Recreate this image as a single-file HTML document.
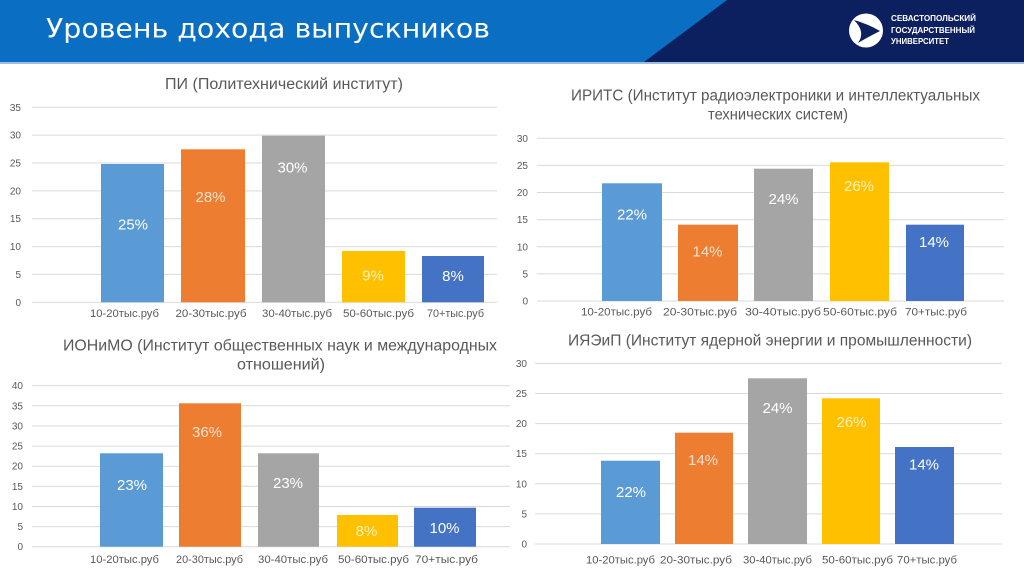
<!DOCTYPE html>
<html><head><meta charset="utf-8"><style>
html,body{margin:0;padding:0;background:#fff;}
svg{display:block;}
.t{font-family:"Liberation Sans","Noto Sans CJK SC",sans-serif;}
</style></head><body>
<svg width="1024" height="576" viewBox="0 0 1024 576" xmlns="http://www.w3.org/2000/svg" class="t">
<rect x="0" y="0" width="1024" height="576" fill="#ffffff"/>
<!-- header -->
<rect x="0" y="0" width="1024" height="62" fill="#0a6fc2"/>
<polygon points="727,0 1024,0 1024,62 644,62" fill="#0c1f5e"/>
<rect x="0" y="62" width="1024" height="2" fill="#9fbde0"/>
<text x="46" y="37.5" font-size="27" fill="#ffffff" font-family="DejaVu Sans, sans-serif" textLength="444" lengthAdjust="spacingAndGlyphs">Уровень дохода выпускников</text>
<circle cx="866" cy="30.5" r="17" fill="#ffffff"/>
<path d="M854,20 Q868,24 880,31 Q868,37 858,43 Q866,32 854,20 Z" fill="#0c1f5e"/>
<g font-size="8.5" font-weight="bold" fill="#ffffff">
<text x="891" y="21" textLength="85" lengthAdjust="spacingAndGlyphs">СЕВАСТОПОЛЬСКИЙ</text>
<text x="891" y="33" textLength="84" lengthAdjust="spacingAndGlyphs">ГОСУДАРСТВЕННЫЙ</text>
<text x="891" y="44" textLength="58" lengthAdjust="spacingAndGlyphs">УНИВЕРСИТЕТ</text>
</g>

<!-- ===== Chart 1 ===== -->
<g stroke="#d9d9d9" stroke-width="1">
<line x1="32" x2="497" y1="302.3" y2="302.3"/>
<line x1="32" x2="497" y1="274.4" y2="274.4"/>
<line x1="32" x2="497" y1="246.6" y2="246.6"/>
<line x1="32" x2="497" y1="218.7" y2="218.7"/>
<line x1="32" x2="497" y1="190.9" y2="190.9"/>
<line x1="32" x2="497" y1="163.0" y2="163.0"/>
<line x1="32" x2="497" y1="135.1" y2="135.1"/>
<line x1="32" x2="497" y1="107.3" y2="107.3"/>
</g>
<g font-size="10" fill="#595959" text-anchor="end">
<text x="21" y="305.8">0</text>
<text x="21" y="277.9">5</text>
<text x="21" y="250.1">10</text>
<text x="21" y="222.2">15</text>
<text x="21" y="194.4">20</text>
<text x="21" y="166.5">25</text>
<text x="21" y="138.6">30</text>
<text x="21" y="110.8">35</text>
</g>
<rect x="101" y="164" width="63" height="138.3" fill="#5b9bd5"/>
<rect x="181" y="149.3" width="64" height="153" fill="#ed7d31"/>
<rect x="262" y="135.7" width="63" height="166.6" fill="#a5a5a5"/>
<rect x="342" y="251" width="63" height="51.3" fill="#ffc000"/>
<rect x="422" y="256" width="62" height="46.3" fill="#4472c4"/>
<g font-size="15" text-anchor="middle">
<text x="133" y="229.5" fill="#ffffff">25%</text>
<text x="210.5" y="202" fill="#fde3cf">28%</text>
<text x="292.5" y="172.5" fill="#ffffff">30%</text>
<text x="373" y="280.5" fill="#fff2c0">9%</text>
<text x="453" y="281" fill="#ffffff">8%</text>
</g>
<g font-size="11" fill="#595959" text-anchor="middle">
<text x="124.5" y="317" textLength="69" lengthAdjust="spacingAndGlyphs">10-20тыс.руб</text>
<text x="211" y="317" textLength="71" lengthAdjust="spacingAndGlyphs">20-30тыс.руб</text>
<text x="297" y="317" textLength="70" lengthAdjust="spacingAndGlyphs">30-40тыс.руб</text>
<text x="378.5" y="317" textLength="71" lengthAdjust="spacingAndGlyphs">50-60тыс.руб</text>
<text x="455.5" y="317" textLength="57" lengthAdjust="spacingAndGlyphs">70+тыс.руб</text>
</g>
<text x="284" y="89" font-size="15.5" fill="#595959" text-anchor="middle" textLength="238" lengthAdjust="spacingAndGlyphs">ПИ (Политехнический институт)</text>

<!-- ===== Chart 2 ===== -->
<g stroke="#d9d9d9" stroke-width="1">
<line x1="537" x2="1004" y1="301" y2="301"/>
<line x1="537" x2="1004" y1="273.9" y2="273.9"/>
<line x1="537" x2="1004" y1="246.8" y2="246.8"/>
<line x1="537" x2="1004" y1="219.7" y2="219.7"/>
<line x1="537" x2="1004" y1="192.5" y2="192.5"/>
<line x1="537" x2="1004" y1="165.4" y2="165.4"/>
<line x1="537" x2="1004" y1="138.3" y2="138.3"/>
</g>
<g font-size="10" fill="#595959" text-anchor="end">
<text x="528" y="304.5">0</text>
<text x="528" y="277.4">5</text>
<text x="528" y="250.3">10</text>
<text x="528" y="223.2">15</text>
<text x="528" y="196">20</text>
<text x="528" y="168.9">25</text>
<text x="528" y="141.8">30</text>
</g>
<rect x="602" y="183.3" width="60" height="117.7" fill="#5b9bd5"/>
<rect x="678" y="224.7" width="60" height="76.3" fill="#ed7d31"/>
<rect x="754" y="168.7" width="59" height="132.3" fill="#a5a5a5"/>
<rect x="830" y="162.3" width="59" height="138.7" fill="#ffc000"/>
<rect x="906" y="224.7" width="58" height="76.3" fill="#4472c4"/>
<g font-size="15" text-anchor="middle">
<text x="632" y="219.5" fill="#ffffff">22%</text>
<text x="707.5" y="256.5" fill="#fde3cf">14%</text>
<text x="783.5" y="203.8" fill="#ffffff">24%</text>
<text x="859" y="191.2" fill="#fff2c0">26%</text>
<text x="934" y="247.2" fill="#ffffff">14%</text>
</g>
<g font-size="11" fill="#595959" text-anchor="middle">
<text x="616.5" y="315.7" textLength="71" lengthAdjust="spacingAndGlyphs">10-20тыс.руб</text>
<text x="700" y="315.7" textLength="74" lengthAdjust="spacingAndGlyphs">20-30тыс.руб</text>
<text x="783" y="315.7" textLength="76" lengthAdjust="spacingAndGlyphs">30-40тыс.руб</text>
<text x="860" y="315.7" textLength="74" lengthAdjust="spacingAndGlyphs">50-60тыс.руб</text>
<text x="936" y="315.7" textLength="62" lengthAdjust="spacingAndGlyphs">70+тыс.руб</text>
</g>
<text x="775.5" y="100.5" font-size="15.5" fill="#595959" text-anchor="middle" textLength="409" lengthAdjust="spacingAndGlyphs">ИРИТС (Институт радиоэлектроники и интеллектуальных</text>
<text x="778" y="119.5" font-size="15.5" fill="#595959" text-anchor="middle" textLength="140" lengthAdjust="spacingAndGlyphs">технических систем)</text>

<!-- ===== Chart 3 ===== -->
<g stroke="#d9d9d9" stroke-width="1">
<line x1="32" x2="510" y1="546.7" y2="546.7"/>
<line x1="32" x2="510" y1="526.6" y2="526.6"/>
<line x1="32" x2="510" y1="506.5" y2="506.5"/>
<line x1="32" x2="510" y1="486.3" y2="486.3"/>
<line x1="32" x2="510" y1="466.2" y2="466.2"/>
<line x1="32" x2="510" y1="446.1" y2="446.1"/>
<line x1="32" x2="510" y1="425.95" y2="425.95"/>
<line x1="32" x2="510" y1="405.8" y2="405.8"/>
<line x1="32" x2="510" y1="385.7" y2="385.7"/>
</g>
<g font-size="10" fill="#595959" text-anchor="end">
<text x="23" y="550.2">0</text>
<text x="23" y="530.1">5</text>
<text x="23" y="510">10</text>
<text x="23" y="489.8">15</text>
<text x="23" y="469.7">20</text>
<text x="23" y="449.6">25</text>
<text x="23" y="429.5">30</text>
<text x="23" y="409.3">35</text>
<text x="23" y="389.2">40</text>
</g>
<rect x="100" y="453.3" width="63" height="93.4" fill="#5b9bd5"/>
<rect x="179" y="403.3" width="62" height="143.4" fill="#ed7d31"/>
<rect x="258" y="453.3" width="61" height="93.4" fill="#a5a5a5"/>
<rect x="337" y="515" width="61" height="31.7" fill="#ffc000"/>
<rect x="414" y="507.7" width="62" height="39" fill="#4472c4"/>
<g font-size="15" text-anchor="middle">
<text x="132" y="489.8" fill="#ffffff">23%</text>
<text x="207" y="437.2" fill="#fde3cf">36%</text>
<text x="288" y="488.2" fill="#ffffff">23%</text>
<text x="366.5" y="536.2" fill="#fff2c0">8%</text>
<text x="444.5" y="532.8" fill="#ffffff">10%</text>
</g>
<g font-size="11" fill="#595959" text-anchor="middle">
<text x="124.5" y="563" textLength="69" lengthAdjust="spacingAndGlyphs">10-20тыс.руб</text>
<text x="209.5" y="563" textLength="67" lengthAdjust="spacingAndGlyphs">20-30тыс.руб</text>
<text x="293" y="563" textLength="70" lengthAdjust="spacingAndGlyphs">30-40тыс.руб</text>
<text x="373.5" y="563" textLength="71" lengthAdjust="spacingAndGlyphs">50-60тыс.руб</text>
<text x="446.5" y="563" textLength="63" lengthAdjust="spacingAndGlyphs">70+тыс.руб</text>
</g>
<text x="280" y="350.5" font-size="15.5" fill="#595959" text-anchor="middle" textLength="434" lengthAdjust="spacingAndGlyphs">ИОНиМО (Институт общественных наук и международных</text>
<text x="281" y="369.5" font-size="15.5" fill="#595959" text-anchor="middle" textLength="88" lengthAdjust="spacingAndGlyphs">отношений)</text>

<!-- ===== Chart 4 ===== -->
<g stroke="#d9d9d9" stroke-width="1">
<line x1="535" x2="1002" y1="544" y2="544"/>
<line x1="535" x2="1002" y1="513.9" y2="513.9"/>
<line x1="535" x2="1002" y1="483.8" y2="483.8"/>
<line x1="535" x2="1002" y1="453.7" y2="453.7"/>
<line x1="535" x2="1002" y1="423.6" y2="423.6"/>
<line x1="535" x2="1002" y1="393.5" y2="393.5"/>
<line x1="535" x2="1002" y1="363.4" y2="363.4"/>
</g>
<g font-size="10" fill="#595959" text-anchor="end">
<text x="527" y="547.5">0</text>
<text x="527" y="517.4">5</text>
<text x="527" y="487.3">10</text>
<text x="527" y="457.2">15</text>
<text x="527" y="427.1">20</text>
<text x="527" y="397">25</text>
<text x="527" y="366.9">30</text>
</g>
<rect x="601" y="460.7" width="59" height="83.3" fill="#5b9bd5"/>
<rect x="675" y="432.7" width="58" height="111.3" fill="#ed7d31"/>
<rect x="748" y="378.3" width="59" height="165.7" fill="#a5a5a5"/>
<rect x="822" y="398.3" width="58" height="145.7" fill="#ffc000"/>
<rect x="895" y="447" width="59" height="97" fill="#4472c4"/>
<g font-size="15" text-anchor="middle">
<text x="631" y="497.2" fill="#ffffff">22%</text>
<text x="703" y="464.8" fill="#fde3cf">14%</text>
<text x="777.5" y="412.8" fill="#ffffff">24%</text>
<text x="851.5" y="427.2" fill="#fff2c0">26%</text>
<text x="924" y="469.5" fill="#ffffff">14%</text>
</g>
<g font-size="11" fill="#595959" text-anchor="middle">
<text x="620.5" y="563.3" textLength="69" lengthAdjust="spacingAndGlyphs">10-20тыс.руб</text>
<text x="696" y="563.3" textLength="72" lengthAdjust="spacingAndGlyphs">20-30тыс.руб</text>
<text x="777.5" y="563.3" textLength="69" lengthAdjust="spacingAndGlyphs">30-40тыс.руб</text>
<text x="857.5" y="563.3" textLength="71" lengthAdjust="spacingAndGlyphs">50-60тыс.руб</text>
<text x="927" y="563.3" textLength="60" lengthAdjust="spacingAndGlyphs">70+тыс.руб</text>
</g>
<text x="770" y="345.5" font-size="15.5" fill="#595959" text-anchor="middle" textLength="404" lengthAdjust="spacingAndGlyphs">ИЯЭиП (Институт ядерной энергии и промышленности)</text>
</svg>
</body></html>
